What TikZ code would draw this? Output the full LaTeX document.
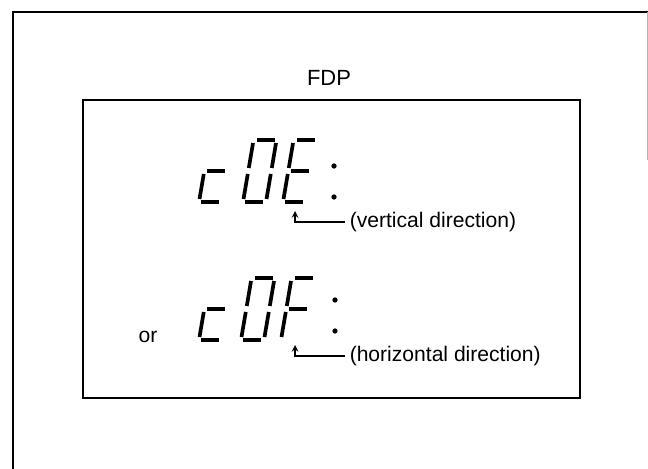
\documentclass[tikz,border=0pt]{standalone}
\usepackage{fontspec}
\setmainfont{Liberation Sans}
\usepackage{tikz}
\usetikzlibrary{arrows, positioning}

% segments of one slanted seven-segment digit, origin at its lower left
\newcommand{\sega}{(3,-62) -- (21,-62)}
\newcommand{\segb}{(23,-59) -- (23,-34)}
\newcommand{\segc}{(23,-28) -- (23,-3)}
\newcommand{\segd}{(2,0) -- (20,0)}
\newcommand{\sege}{(0,-3) -- (0,-28)}
\newcommand{\segf}{(0,-34) -- (0,-59)}
\newcommand{\segg}{(3,-31) -- (21,-31)}
\newcommand{\segdigit}[2]{%
  \begin{scope}[shift={#1}, xslant=0.17]
    \foreach \s in {#2} {\draw[seg] \csname seg\s\endcsname;}
  \end{scope}}

\begin{document}
\begin{tikzpicture}[
    x=0.02cm, y=-0.02cm,
    frame/.style={line width=0.9pt},
    seg/.style={line width=2.1pt, line cap=butt},
    dot/.style={radius=1.5pt},
    lbl/.style={font=\fontsize{12}{14}\selectfont, inner ysep=0pt, inner xsep=2.5pt, anchor=west},
    pointer/.style={->, >=stealth, line width=0.7pt}
]
    \useasboundingbox (0,0) rectangle (648,469);
    \draw[frame] (13,469) -- (13,12) -- (648,12);
    \draw[gray!60, line width=0.3pt] (647,12) -- (647,160);
    \draw[frame] (83,100) rectangle (580,398);

    \node (fdp) at (329,78) [font=\fontsize{12.5}{14}\selectfont] {FDP};

    % c0E :
    \segdigit{(199,202)}{d,e,g}
    \segdigit{(243,202)}{a,b,c,d,e,f}
    \segdigit{(283,202)}{a,d,e,f,g}
    \fill (334,166) circle[dot];
    \fill (334,197) circle[dot];
    \coordinate (vtip) at (295,211);
    \node (vlab) at (345,222) [lbl] {(vertical direction)};
    \draw[pointer] (vlab.west) -| (vtip);

    % c0F :
    \node (or) at (148,337) [font=\fontsize{12}{14}\selectfont] {or};
    \segdigit{(199,340)}{d,e,g}
    \segdigit{(241,340)}{a,b,c,d,e,f}
    \segdigit{(281,340)}{a,e,f,g}
    \fill (335,300) circle[dot];
    \fill (335,331) circle[dot];
    \coordinate (htip) at (295,345);
    \node (hlab) at (345,356) [lbl] {(horizontal direction)};
    \draw[pointer] (hlab.west) -| (htip);
\end{tikzpicture}
\end{document}
